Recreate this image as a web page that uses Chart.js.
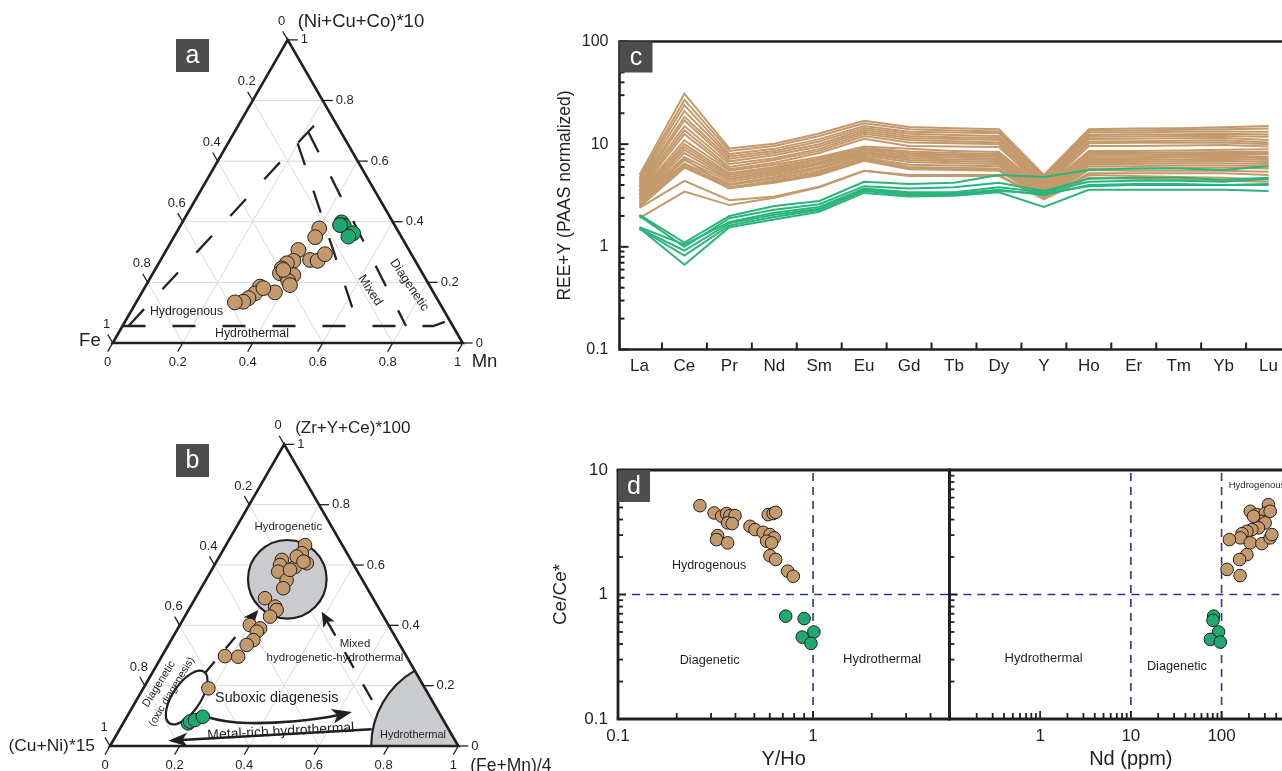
<!DOCTYPE html>
<html><head><meta charset="utf-8"><title>Fe-Mn crust geochemistry</title>
<script src="https://cdn.jsdelivr.net/npm/chart.js@4.4.1/dist/chart.umd.min.js"></script>
<style>
html,body{margin:0;padding:0;background:#fff;}
body{position:relative;width:1282px;height:771px;overflow:hidden;}
canvas{position:absolute;}
</style></head><body>
<canvas id="panelA" width="540" height="400" style="left:0px;top:0px"></canvas>
<canvas id="panelB" width="560" height="371" style="left:0px;top:400px"></canvas>
<canvas id="panelC" width="760" height="400" style="left:540px;top:0px"></canvas>
<canvas id="panelD1" width="420" height="331" style="left:540px;top:440px"></canvas>
<canvas id="panelD2" width="380" height="331" style="left:940px;top:440px"></canvas>
<script>
// ================= DATA =================
const ternaryTicks = [0, 0.2, 0.4, 0.6, 0.8, 1];

// (a) Fe - Mn - (Ni+Cu+Co)*10 ; fractions of Mn and (Ni+Cu+Co)*10, Fe is the remainder
const aBrownMn  = [0.401,0.404,0.377,0.381,0.366,0.360,0.363,0.385,0.404,0.399,0.411,0.427,0.450,0.460,0.380,0.328,0.325,0.314,0.305,0.282,0.340,0.367];
const aBrownNCC = [0.378,0.349,0.307,0.271,0.263,0.246,0.230,0.224,0.224,0.205,0.191,0.274,0.271,0.293,0.167,0.186,0.164,0.148,0.136,0.134,0.181,0.241];
const aGreenMn  = [0.455,0.467,0.506,0.498,0.455];
const aGreenNCC = [0.398,0.387,0.362,0.351,0.389];
// field limits as [Mn, (Ni+Cu+Co)*10]
const aLimitHydrothermal = [[0.000,0.056],[0.888,0.056],[0.922,0.074]];
const aLimitHydrogenous  = [[0.017,0.056],[0.232,0.769]];
const aLimitMixed        = [[0.199,0.659],[0.674,0.056]];
const aLimitDiagenetic   = [[0.210,0.697],[0.810,0.056]];

// (b) (Cu+Ni)*15 - (Fe+Mn)/4 - (Zr+Y+Ce)*100 ; fractions of (Fe+Mn)/4 and (Zr+Y+Ce)*100
const bBrownFeMn = [0.227,0.231,0.262,0.234,0.185,0.188,0.194,0.232,0.236,0.200,0.243,0.253,0.245,0.201,0.236,0.232,0.236,0.225,0.220,0.181,0.187,0.222,0.225,0.250];
const bBrownZYC  = [0.666,0.639,0.606,0.594,0.617,0.600,0.578,0.550,0.523,0.490,0.462,0.451,0.429,0.401,0.390,0.379,0.351,0.335,0.296,0.298,0.191,0.628,0.584,0.611];
const bGreenFeMn = [0.187,0.189,0.201,0.218];
const bGreenZYC  = [0.075,0.081,0.086,0.097];

// (c) PAAS-normalised REE+Y patterns
const reeElements = ['La','Ce','Pr','Nd','Sm','Eu','Gd','Tb','Dy','Y','Ho','Er','Tm','Yb','Lu'];
const reeBrownUpper = [
  [5.0,31,9.1,10.1,12.7,16.9,14.7,14.3,14.0,5.0,14.0,14.2,14.3,14.6,15.0],
  [4.7,27,8.6,9.6,12.0,16.0,14.0,13.6,13.3,4.8,13.5,13.6,13.8,14.0,14.2],
  [4.5,24,8.0,9.0,11.2,15.0,13.2,13.0,12.8,4.6,13.0,13.0,13.2,13.3,13.2],
  [4.3,21,7.6,8.6,10.6,14.4,12.6,12.3,12.0,4.4,12.3,12.4,12.5,12.6,12.4],
  [4.1,18.5,7.2,8.2,10.0,13.8,12.0,11.7,11.5,4.3,11.8,11.9,12.0,12.0,11.8],
  [3.9,17,6.8,7.8,9.5,13.2,11.5,11.2,11.0,4.1,11.2,11.3,11.4,11.5,11.0],
  [3.8,15,6.4,7.3,9.0,12.6,11.0,10.7,10.4,4.0,10.6,10.7,10.8,10.9,10.4],
  [3.6,13.7,6.0,7.0,8.6,12.0,10.4,10.2,10.0,3.8,10.2,10.3,10.3,10.4,10.0],
  [3.5,12.5,5.7,6.6,8.2,11.3,9.6,9.5,9.4,3.7,9.6,9.6,9.7,9.8,9.5]
];
const reeBrownMiddle = [
  [3.4,10.9,5.5,6.3,7.5,9.5,9.0,8.6,8.4,3.7,8.6,8.6,8.7,8.8,8.9],
  [3.3,10.0,5.2,6.0,7.2,9.2,8.5,8.2,8.0,3.6,8.2,8.2,8.3,8.4,8.4],
  [3.2,9.4,5.0,5.8,7.0,9.0,8.2,7.9,7.8,3.5,7.9,7.9,8.0,8.0,8.0],
  [3.1,8.8,4.8,5.6,6.7,8.7,7.9,7.7,7.5,3.5,7.6,7.6,7.7,7.7,7.6],
  [3.0,8.2,4.6,5.4,6.5,8.4,7.6,7.4,7.2,3.4,7.3,7.3,7.4,7.5,7.3],
  [2.95,7.5,4.5,5.2,6.3,8.2,7.3,7.1,7.0,3.4,7.0,7.0,7.1,7.2,7.0],
  [2.9,7.0,4.3,5.0,6.0,8.0,7.0,6.8,6.7,3.3,6.7,6.7,6.8,6.9,6.7],
  [2.8,6.5,4.1,4.8,5.8,7.7,6.7,6.5,6.4,3.2,6.4,6.4,6.5,6.5,6.4],
  [2.7,6.0,4.0,4.6,5.5,7.4,6.3,6.2,6.1,3.2,6.1,6.1,6.2,6.2,6.1],
  [2.6,7.2,3.8,4.4,5.3,7.2,6.0,5.9,5.8,3.1,5.8,5.8,5.9,5.9,5.8],
  [2.5,6.3,3.7,4.3,5.1,7.0,5.8,5.7,5.6,3.0,5.6,5.5,5.5,5.5,5.4],
  [2.45,5.9,3.75,4.2,5.0,6.9,5.7,5.6,5.5,3.0,5.2,5.2,5.2,5.2,5.0]
];
const reeBrownLower = [
  [2.4,4.4,2.85,3.1,3.85,5.5,5.0,5.0,5.0,3.0,5.0,4.9,4.8,4.7,4.5],
  [1.9,3.45,2.55,3.0,3.8,5.5,4.9,4.9,4.9,2.9,4.7,4.6,4.5,4.4,4.3]
];
const reeGreen = [
  [2.05,1.1,2.0,2.5,2.8,4.3,4.1,4.2,5.0,4.8,5.6,5.8,5.8,5.6,6.1],
  [2.0,1.0,1.9,2.3,2.6,3.9,3.7,3.8,4.2,3.5,4.6,4.7,4.7,4.5,4.7],
  [1.55,1.05,1.75,2.15,2.45,3.7,3.4,3.4,3.8,3.4,4.3,4.4,4.4,4.3,4.6],
  [1.5,0.92,1.7,2.05,2.35,3.6,3.3,3.3,3.6,3.2,4.0,4.1,4.1,4.0,4.1],
  [1.5,0.82,1.62,1.95,2.3,3.5,3.2,3.2,3.5,3.3,3.9,4.0,4.0,4.0,4.0],
  [1.52,0.67,1.55,1.85,2.2,3.35,3.1,3.15,3.4,2.45,3.6,3.6,3.6,3.6,3.5]
];

// (d) Ce/Ce* vs Y/Ho and vs Nd
const dBrownYHo   = [0.263,0.311,0.340,0.360,0.375,0.398,0.365,0.385,0.324,0.320,0.365,0.475,0.504,0.555,0.601,0.632,0.578,0.613,0.589,0.625,0.643,0.601,0.643,0.741,0.792];
const dBrownCeYHo = [5.17,4.52,4.25,4.47,4.30,4.30,3.76,3.71,2.97,2.76,2.60,3.53,3.32,3.16,3.03,2.85,2.68,2.60,4.38,4.47,4.57,2.05,1.91,1.54,1.40];
const dGreenYHo   = [0.724,0.90,1.01,0.88,0.975];
const dGreenCeYHo = [0.67,0.64,0.50,0.455,0.405];
const dBrownNd    = [328,207,245,302,343,278,302,255,216,190,168,161,122,207,278,343,358,190,158,115,160,225];
const dBrownCeNd  = [5.27,4.66,4.38,4.50,4.66,3.87,3.76,3.43,3.32,3.22,3.08,2.85,2.76,2.60,2.56,2.85,3.03,2.09,1.91,1.59,1.42,4.25];
const dGreenNd    = [81.7,80.4,92.7,75.2,96.8];
const dGreenCeNd  = [0.67,0.62,0.50,0.436,0.415];
const ceAnomalyLimit = 1;
const yHoLimit = 1;
const ndLimits = [10, 100];

// ================= STYLE / HELPERS =================
const SQ3 = Math.sqrt(3) / 2;
const SANS = '"Liberation Sans", Arial, Helvetica, sans-serif';
const INK = '#231f20';
const BROWN = '#c49a6c';
const GREEN = '#1fa971';
const LINE_GREEN = '#2ab57c';
const GRID = '#d9d9d9';
const FIELD_GRAY = '#c9cbce';
const BOX = '#4d4d4d';
const DASH_BLUE = '#2b3497';
Chart.defaults.font.family = SANS;
Chart.defaults.color = INK;

function uv(chart, u, v) { return [chart.scales.x.getPixelForValue(u), chart.scales.y.getPixelForValue(v)]; }
function tp(chart, b, c) { return uv(chart, b + c / 2, c * SQ3); }
function toXY(bs, cs) { return bs.map((b, i) => ({ x: b + cs[i] / 2, y: cs[i] * SQ3 })); }
function pairsXY(pairs) { return pairs.map(([b, c]) => ({ x: b + c / 2, y: c * SQ3 })); }
function zipXY(xs, ys) { return xs.map((x, i) => ({ x, y: ys[i] })); }
function seg(ctx, p, q) { ctx.beginPath(); ctx.moveTo(p[0], p[1]); ctx.lineTo(q[0], q[1]); ctx.stroke(); }
function text(ctx, s, x, y, o = {}) {
  ctx.save();
  ctx.font = (o.size || 12) + 'px ' + SANS;
  ctx.fillStyle = o.color || INK;
  ctx.textAlign = o.align || 'center';
  ctx.textBaseline = o.base || 'middle';
  ctx.translate(x, y);
  if (o.rot) ctx.rotate(o.rot * Math.PI / 180);
  ctx.fillText(s, 0, 0);
  ctx.restore();
}
function labelBox(ctx, x, y, w, h, s) {
  ctx.save(); ctx.fillStyle = BOX; ctx.fillRect(x, y, w, h);
  text(ctx, s, x + w / 2, y + h / 2 + 1, { size: 25, color: '#fff' });
  ctx.restore();
}
function head(ctx, tip, from, len, half) {
  const dx = tip[0] - from[0], dy = tip[1] - from[1], L = Math.hypot(dx, dy), ux = dx / L, uy = dy / L;
  const bx = tip[0] - ux * len, by = tip[1] - uy * len;
  const nx = tip[0] - ux * len * 0.75, ny = tip[1] - uy * len * 0.75;
  ctx.beginPath(); ctx.moveTo(tip[0], tip[1]);
  ctx.lineTo(bx - uy * half, by + ux * half); ctx.lineTo(nx, ny);
  ctx.lineTo(bx + uy * half, by - ux * half); ctx.closePath(); ctx.fill();
}
function arrow(ctx, p, tip, o) {
  const dx = tip[0] - p[0], dy = tip[1] - p[1], L = Math.hypot(dx, dy);
  const end = [tip[0] - dx / L * o.head * 0.7, tip[1] - dy / L * o.head * 0.7];
  ctx.save(); ctx.strokeStyle = INK; ctx.fillStyle = INK; ctx.lineWidth = o.width;
  if (o.dash) ctx.setLineDash(o.dash);
  seg(ctx, p, end); ctx.setLineDash([]); head(ctx, tip, p, o.head, o.half); ctx.restore();
}
function curveArrow(ctx, pts, o) {
  const n = pts.length, tip = pts[n - 1], prev = pts[n - 2];
  const dx = tip[0] - prev[0], dy = tip[1] - prev[1], L = Math.hypot(dx, dy);
  const end = [tip[0] - dx / L * o.head * 0.7, tip[1] - dy / L * o.head * 0.7];
  ctx.save(); ctx.strokeStyle = INK; ctx.fillStyle = INK; ctx.lineWidth = o.width;
  ctx.beginPath(); ctx.moveTo(pts[0][0], pts[0][1]);
  for (let i = 1; i < n - 2; i++) {
    const m = [(pts[i][0] + pts[i + 1][0]) / 2, (pts[i][1] + pts[i + 1][1]) / 2];
    ctx.quadraticCurveTo(pts[i][0], pts[i][1], m[0], m[1]);
  }
  ctx.quadraticCurveTo(pts[n - 2][0], pts[n - 2][1], end[0], end[1]);
  ctx.stroke();
  head(ctx, tip, prev, o.head, o.half);
  ctx.restore();
}
function ternaryGrid(chart) {
  const ctx = chart.ctx;
  ctx.save(); ctx.strokeStyle = GRID; ctx.lineWidth = 1;
  for (const t of ternaryTicks.slice(1, -1)) {
    seg(ctx, tp(chart, 0, t), tp(chart, 1 - t, t));
    seg(ctx, tp(chart, t, 0), tp(chart, t, 1 - t));
    seg(ctx, tp(chart, 1 - t, 0), tp(chart, 0, 1 - t));
  }
  ctx.restore();
}
function ternaryFrame(chart, len, size) {
  const ctx = chart.ctx;
  const L = tp(chart, 0, 0), R = tp(chart, 1, 0), T = tp(chart, 0, 1);
  ctx.save(); ctx.strokeStyle = INK; ctx.lineWidth = 2.6; ctx.lineJoin = 'miter';
  ctx.beginPath(); ctx.moveTo(L[0], L[1]); ctx.lineTo(R[0], R[1]); ctx.lineTo(T[0], T[1]); ctx.closePath(); ctx.stroke();
  ctx.lineWidth = 1.3;
  for (const t of ternaryTicks) {
    const lab = t === 0 ? '0' : t === 1 ? '1' : t.toFixed(1);
    let p = tp(chart, t, 0), e = [p[0] - 0.5 * len, p[1] + SQ3 * len];
    seg(ctx, p, e); text(ctx, lab, e[0], e[1] + 11, { size });
    p = tp(chart, 1 - t, t); e = [p[0] + len, p[1]];
    seg(ctx, p, e); text(ctx, lab, e[0] + 3, e[1], { size, align: 'left' });
    p = tp(chart, 0, 1 - t); e = [p[0] - 0.5 * len, p[1] - SQ3 * len];
    seg(ctx, p, e); text(ctx, lab, e[0] - 1, e[1] - 10, { size });
  }
  ctx.restore();
}
function pointSet(data, color, r) {
  return { data, backgroundColor: color, borderColor: INK, borderWidth: 1, pointRadius: r, pointHoverRadius: r };
}
function lineSet(data, color, w, dash) {
  return { data, showLine: true, borderColor: color, borderWidth: w, borderDash: dash || [], pointRadius: 0, fill: false, tension: 0 };
}
function ternaryChart(id, view, datasets, deco) {
  return new Chart(document.getElementById(id), {
    type: 'scatter',
    data: { datasets },
    options: {
      responsive: false, animation: false, devicePixelRatio: 1, events: [],
      layout: { autoPadding: false, padding: 0 },
      scales: {
        x: { type: 'linear', display: false, min: view[0], max: view[1] },
        y: { type: 'linear', display: false, min: view[2], max: view[3] }
      },
      plugins: { legend: { display: false }, tooltip: { enabled: false } }
    },
    plugins: [deco]
  });
}
function logTicks(min, max) {
  const out = [];
  for (let e = Math.floor(Math.log10(min)); e <= Math.ceil(Math.log10(max)); e++) {
    for (let m = 1; m < 10; m++) {
      const v = +(m * Math.pow(10, e)).toPrecision(6);
      if (v >= min * 0.9999 && v <= max * 1.0001) out.push({ value: v, major: m === 1 });
    }
  }
  return out;
}
function isPow10(v) { const l = Math.log10(v); return Math.abs(l - Math.round(l)) < 1e-6; }
function logLabel(v) { return isPow10(v) ? String(v) : ''; }
function drawLogTicks(ctx, chart, axis, side, major, minor) {
  const s = chart.scales[axis], a = chart.chartArea;
  for (const t of s.ticks) {
    const len = t.major ? major : minor;
    const p = s.getPixelForValue(t.value);
    if (side === 'bottom') seg(ctx, [p, a.bottom], [p, a.bottom - len]);
    else seg(ctx, [a.left, p], [a.left + len, p]);
  }
}

// ================= PANEL A =================
const decoA = {
  id: 'decoA',
  beforeDatasetsDraw(chart) {
    const ctx = chart.ctx;
    ternaryGrid(chart);
    ternaryFrame(chart, 10, 13);
    const T = tp(chart, 0, 1), L = tp(chart, 0, 0), R = tp(chart, 1, 0);
    text(ctx, '(Ni+Cu+Co)*10', T[0] + 10, T[1] - 18, { size: 18.5, align: 'left' });
    text(ctx, 'Fe', L[0] - 12, L[1] - 2, { size: 18.5, align: 'right' });
    text(ctx, 'Mn', R[0] + 9, R[1] + 19, { size: 18.5, align: 'left' });
    text(ctx, 'Hydrogenous', ...uv(chart, 0.2109, 0.0886), { size: 12.3 });
    text(ctx, 'Hydrothermal', ...uv(chart, 0.398, 0.0257), { size: 12.3 });
    text(ctx, 'Mixed', ...uv(chart, 0.7351, 0.1506), { size: 12.8, rot: 57 });
    text(ctx, 'Diagenetic', ...uv(chart, 0.8474, 0.1657), { size: 12.6, rot: 56 });
    labelBox(ctx, 176, 39, 33, 33, 'a');
  }
};
const limitStyle = (d) => lineSet(pairsXY(d), '#2a2020', 2.3, [23, 27]);
ternaryChart('panelA', [-0.322, 1.2209, -0.1629, 0.98], [
  pointSet(toXY(aGreenMn, aGreenNCC), GREEN, 7.4),
  pointSet(toXY(aBrownMn, aBrownNCC), BROWN, 7.4),
  limitStyle(aLimitHydrothermal),
  limitStyle(aLimitHydrogenous),
  limitStyle(aLimitMixed),
  limitStyle(aLimitDiagenetic)
], decoA);

// ================= PANEL B =================
const decoB = {
  id: 'decoB',
  beforeDatasetsDraw(chart) {
    const ctx = chart.ctx;
    ternaryGrid(chart);
    const k = chart.scales.x.getPixelForValue(1) - chart.scales.x.getPixelForValue(0);
    const R = tp(chart, 1, 0);
    ctx.save();
    ctx.strokeStyle = INK; ctx.lineWidth = 2.2;
    // hydrothermal field
    ctx.beginPath(); ctx.moveTo(R[0], R[1]); ctx.arc(R[0], R[1], 0.25 * k, Math.PI, Math.PI * 4 / 3, false); ctx.closePath();
    ctx.fillStyle = FIELD_GRAY; ctx.fill();
    ctx.beginPath(); ctx.arc(R[0], R[1], 0.25 * k, Math.PI, Math.PI * 4 / 3, false); ctx.stroke();
    // hydrogenetic field
    const C = tp(chart, 0.2327, 0.5527);
    ctx.beginPath(); ctx.arc(C[0], C[1], 0.1128 * k, 0, Math.PI * 2); ctx.fill(); ctx.stroke();
    // diagenetic (oxic) field
    const E = tp(chart, 0.1398, 0.1607);
    ctx.beginPath(); ctx.ellipse(E[0], E[1], 0.089 * k, 0.040 * k, -56 * Math.PI / 180, 0, Math.PI * 2);
    ctx.fillStyle = '#fff'; ctx.fill(); ctx.stroke();
    ctx.restore();
    ternaryFrame(chart, 10, 13);
    const T = tp(chart, 0, 1), L = tp(chart, 0, 0);
    text(ctx, '(Zr+Y+Ce)*100', T[0] + 11, T[1] - 16, { size: 17, align: 'left' });
    text(ctx, '(Cu+Ni)*15', L[0] - 15, L[1], { size: 17.4, align: 'right' });
    text(ctx, '(Fe+Mn)/4', R[0] + 12, R[1] + 20, { size: 17.5, align: 'left' });
    // arrows
    arrow(ctx, uv(chart, 0.2728, 0.2096), uv(chart, 0.4258, 0.3905), { dash: [15, 17], width: 2.3, head: 15, half: 6.5 });
    arrow(ctx, uv(chart, 0.7522, 0.1321), uv(chart, 0.6078, 0.3856), { dash: [18, 19], width: 2.3, head: 15, half: 6.5 });
    arrow(ctx, uv(chart, 0.7514, 0.048), uv(chart, 0.1674, 0.0152), { width: 2.6, head: 19, half: 7 });
    curveArrow(ctx, [uv(chart, 0.2785, 0.0833), uv(chart, 0.3302, 0.0675), uv(chart, 0.4594, 0.0646), uv(chart, 0.6029, 0.0775), uv(chart, 0.6948, 0.0976)], { width: 2.6, head: 20, half: 7.5 });
    // labels
    text(ctx, 'Hydrogenetic', ...uv(chart, 0.5119, 0.6296), { size: 11.5 });
    text(ctx, 'Mixed', ...uv(chart, 0.7034, 0.2929), { size: 11.5 });
    text(ctx, 'hydrogenetic-hydrothermal', ...uv(chart, 0.646, 0.2518), { size: 11.5 });
    text(ctx, 'Suboxic diagenesis', ...uv(chart, 0.4786, 0.1387), { size: 14.3 });
    text(ctx, 'Metal-rich hydrothermal', ...uv(chart, 0.4904, 0.0411), { size: 14, rot: -3 });
    text(ctx, 'Hydrothermal', ...uv(chart, 0.87, 0.0316), { size: 11 });
    text(ctx, 'Diagenetic', ...uv(chart, 0.1407, 0.178), { size: 11, rot: -58 });
    text(ctx, '(oxic diagenesis)', ...uv(chart, 0.1771, 0.1559), { size: 10.5, rot: -59 });
    labelBox(ctx, 176, 44, 33, 33, 'b');
  }
};
ternaryChart('panelB', [-0.3158, 1.292, -0.0718, 0.9934], [
  pointSet(toXY(bGreenFeMn, bGreenZYC), GREEN, 6.8),
  pointSet(toXY(bBrownFeMn, bBrownZYC), BROWN, 6.8)
], decoB);

// ================= PANEL C =================
const decoC = {
  id: 'decoC',
  afterDatasetsDraw(chart) {
    const ctx = chart.ctx, a = chart.chartArea, x = chart.scales.x;
    ctx.save(); ctx.strokeStyle = INK; ctx.lineWidth = 2;
    drawLogTicks(ctx, chart, 'y', 'left', 9, 5);
    for (let i = 0; i < reeElements.length - 1; i++) {
      const px = x.getPixelForValue(i + 0.5);
      seg(ctx, [px, a.bottom], [px, a.bottom - 7]);
    }
    ctx.lineWidth = 2.6;
    ctx.beginPath(); ctx.moveTo(a.right, a.top); ctx.lineTo(a.left, a.top); ctx.lineTo(a.left, a.bottom); ctx.lineTo(a.right, a.bottom); ctx.stroke();
    ctx.restore();
    labelBox(ctx, a.left, a.top, 33, 31, 'c');
  }
};
const reeSet = (s, color) => ({ data: s.map((v, i) => ({ x: i, y: v })), borderColor: color, borderWidth: 2, pointRadius: 0, tension: 0, fill: false });
new Chart(document.getElementById('panelC'), {
  type: 'line',
  data: { datasets: [
    ...reeGreen.map(s => reeSet(s, LINE_GREEN)),
    ...reeBrownLower.map(s => reeSet(s, BROWN)),
    ...reeBrownMiddle.map(s => reeSet(s, BROWN)),
    ...reeBrownUpper.map(s => reeSet(s, BROWN))
  ] },
  options: {
    responsive: false, animation: false, devicePixelRatio: 1, events: [],
    layout: { autoPadding: false, padding: { left: 0, top: 41.5, right: 0, bottom: 0 } },
    scales: {
      x: { type: 'linear', min: -0.445, max: 14.70,
        afterFit: s => { s.height = 50.5; },
        afterBuildTicks: s => { s.ticks = reeElements.map((e, i) => ({ value: i })); },
        ticks: { autoSkip: false, maxRotation: 0, padding: 7, font: { size: 17 }, color: INK, callback: v => reeElements[v] ?? '' },
        grid: { display: false, drawTicks: false }, border: { display: false } },
      y: { type: 'logarithmic', min: 0.1, max: 100,
        afterFit: s => { s.width = 79.5; },
        afterBuildTicks: s => { s.ticks = logTicks(0.1, 100); },
        ticks: { autoSkip: false, padding: 11, font: { size: 16 }, color: INK, callback: logLabel },
        grid: { display: false, drawTicks: false }, border: { display: false },
        title: { display: true, text: 'REE+Y (PAAS normalized)', font: { size: 17.5 }, color: INK, padding: { top: 14.5, bottom: 0 } } }
    },
    plugins: { legend: { display: false }, tooltip: { enabled: false } }
  },
  plugins: [decoC]
});

// ================= PANEL D =================
function dChart(id, cfg) {
  return new Chart(document.getElementById(id), {
    type: 'scatter',
    data: { datasets: cfg.datasets },
    options: {
      responsive: false, animation: false, devicePixelRatio: 1, events: [],
      layout: { autoPadding: false, padding: cfg.padding },
      scales: {
        x: { type: 'logarithmic', min: cfg.xmin, max: cfg.xmax,
          afterFit: s => { s.height = 52; },
          afterBuildTicks: s => { s.ticks = logTicks(cfg.xmin, cfg.xmax); },
          ticks: { autoSkip: false, maxRotation: 0, padding: 7, font: { size: 17 }, color: INK, callback: cfg.xLabel },
          grid: { display: false, drawTicks: false }, border: { display: false },
          title: { display: true, text: cfg.xTitle, font: { size: 20 }, color: INK, padding: { top: 0, bottom: 0 } } },
        y: { type: 'logarithmic', min: 0.1, max: 10,
          afterFit: s => { s.width = cfg.yWidth; },
          afterBuildTicks: s => { s.ticks = logTicks(0.1, 10); },
          ticks: { display: cfg.yLabels, autoSkip: false, padding: 10, font: { size: 17 }, color: INK, callback: logLabel },
          grid: { display: false, drawTicks: false }, border: { display: false },
          title: { display: !!cfg.yTitle, text: cfg.yTitle || '', font: { size: 19 }, color: INK, padding: { top: 9.6, bottom: 0 } } }
      },
      plugins: { legend: { display: false }, tooltip: { enabled: false } }
    },
    plugins: [cfg.deco]
  });
}
function dFrame(chart, sides) {
  const ctx = chart.ctx, a = chart.chartArea;
  ctx.save(); ctx.strokeStyle = INK; ctx.lineWidth = 1.8;
  drawLogTicks(ctx, chart, 'x', 'bottom', 8, 6);
  drawLogTicks(ctx, chart, 'y', 'left', 8, 5);
  ctx.lineWidth = 2.8;
  if (sides.includes('t')) seg(ctx, [a.left - 1.4, a.top], [a.right + 1.4, a.top]);
  if (sides.includes('b')) seg(ctx, [a.left - 1.4, a.bottom], [a.right + 1.4, a.bottom]);
  if (sides.includes('l')) seg(ctx, [a.left, a.top], [a.left, a.bottom]);
  if (sides.includes('r')) seg(ctx, [a.right, a.top], [a.right, a.bottom]);
  ctx.restore();
}
function dataText(chart, s, xv, yv, o) {
  text(chart.ctx, s, chart.scales.x.getPixelForValue(xv), chart.scales.y.getPixelForValue(yv), o);
}
dChart('panelD1', {
  xmin: 0.1, xmax: 5, xTitle: 'Y/Ho', yTitle: 'Ce/Ce*', yWidth: 78, yLabels: true,
  padding: { top: 30, right: 10.6, bottom: 0, left: 0 },
  xLabel: logLabel,
  datasets: [
    pointSet(zipXY(dGreenYHo, dGreenCeYHo), GREEN, 6.3),
    pointSet(zipXY(dBrownYHo, dBrownCeYHo), BROWN, 6.3),
    lineSet([{ x: 0.1, y: ceAnomalyLimit }, { x: 5, y: ceAnomalyLimit }], DASH_BLUE, 1.6, [8, 6]),
    lineSet([{ x: yHoLimit, y: 0.1 }, { x: yHoLimit, y: 10 }], DASH_BLUE, 1.6, [8, 6])
  ],
  deco: { id: 'decoD1', afterDatasetsDraw(chart) {
    dFrame(chart, 'tblr');
    dataText(chart, 'Hydrogenous', 0.293, 1.70, { size: 12.5 });
    dataText(chart, 'Diagenetic', 0.295, 0.294, { size: 12.7 });
    dataText(chart, 'Hydrothermal', 2.26, 0.303, { size: 13 });
    const a = chart.chartArea;
    labelBox(chart.ctx, a.left, a.top, 32, 32, 'd');
  } }
});
dChart('panelD2', {
  xmin: 0.1, xmax: 1000, xTitle: 'Nd (ppm)', yTitle: '', yWidth: 9.4, yLabels: false,
  padding: { top: 30, right: 7.7, bottom: 0, left: 0 },
  xLabel: v => (v >= 1 && v <= 100 && isPow10(v)) ? String(v) : '',
  datasets: [
    pointSet(zipXY(dGreenNd, dGreenCeNd), GREEN, 6.3),
    pointSet(zipXY(dBrownNd, dBrownCeNd), BROWN, 6.3),
    lineSet([{ x: 0.1, y: ceAnomalyLimit }, { x: 1000, y: ceAnomalyLimit }], DASH_BLUE, 1.6, [8, 6]),
    ...ndLimits.map(n => lineSet([{ x: n, y: 0.1 }, { x: n, y: 10 }], DASH_BLUE, 1.6, [8, 6]))
  ],
  deco: { id: 'decoD2', afterDatasetsDraw(chart) {
    dFrame(chart, 'tbl');
    dataText(chart, 'Hydrothermal', 1.09, 0.305, { size: 13 });
    dataText(chart, 'Diagenetic', 32.2, 0.263, { size: 12.7 });
    dataText(chart, 'Hydrogenous', 120, 7.59, { size: 9.5, align: 'left' });
  } }
});
</script>
</body></html>
